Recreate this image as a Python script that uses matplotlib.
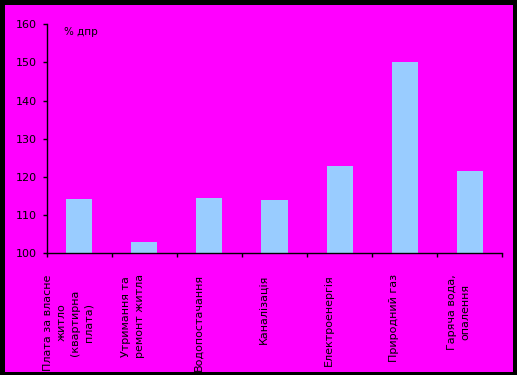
import matplotlib.pyplot as plt
from matplotlib.patches import Rectangle
from matplotlib.transforms import blended_transform_factory

# categories and values (% to previous year)
categories = [
    "Плата за власне\nжитло\n(квартирна\nплата)",
    "Утримання та\nремонт житла",
    "Водопостачання",
    "Каналізація",
    "Електроенергія",
    "Природний газ",
    "Гаряча вода,\nопалення",
]
values = [114.2, 103.0, 114.5, 114.0, 122.9, 150.1, 121.6]
y_ticks = [100, 110, 120, 130, 140, 150, 160]

bg_color = "#FF00FF"
bar_color = "#99CCFF"

fig = plt.figure(figsize=(5.17, 3.75), dpi=100, facecolor="black")
fig.patches.append(Rectangle((5 / 517, 3.3 / 375), 507.7 / 517, 366.7 / 375,
                             transform=fig.transFigure, facecolor=bg_color,
                             edgecolor="none", zorder=-10))

ax = fig.add_axes([46.7 / 517, 1 - 253.3 / 375, 455.6 / 517, 229 / 375])
ax.set_facecolor("none")

x = list(range(len(values)))
ax.bar(x, values, width=0.4, color=bar_color, zorder=2)

ax.set_ylim(100, 160)
ax.set_yticks(y_ticks)
ax.set_xlim(-0.5, len(values) - 0.5)
ax.set_xticks([i - 0.5 for i in range(len(values) + 1)])
ax.set_xticklabels([])

for side in ["top", "right"]:
    ax.spines[side].set_visible(False)
for side in ["left", "bottom"]:
    ax.spines[side].set_color("black")
    ax.spines[side].set_linewidth(1.0)

ax.tick_params(axis="y", direction="out", length=3, width=1, pad=4,
               labelsize=8, colors="black")
ax.tick_params(axis="x", direction="out", length=3, width=1, colors="black")

trans = blended_transform_factory(ax.transData, ax.transAxes)
for i, lab in enumerate(categories):
    ax.text(i - 0.17, -0.092, lab, transform=trans, rotation=90,
            ha="center", va="top", multialignment="center",
            fontsize=8, linespacing=1.45, color="black")

ax.text(0.038, 0.965, "% дпр", transform=ax.transAxes, fontsize=7.5,
        color="black", ha="left", va="center")

fig.savefig("out.png", dpi=100, facecolor=fig.get_facecolor())
